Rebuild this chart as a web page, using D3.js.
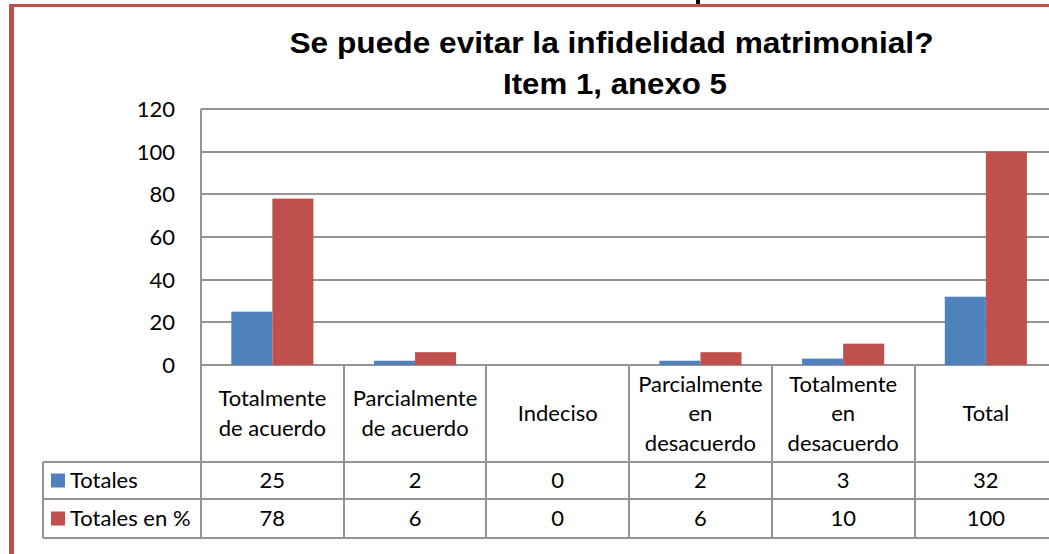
<!DOCTYPE html>
<html>
<head>
<meta charset="utf-8">
<script src="https://cdn.jsdelivr.net/npm/d3@7"></script>
<style>
  html, body { margin: 0; padding: 0; background: #fff; }
  svg { display: block; }
</style>
</head>
<body>
<div id="chart"></div>
<script>
// categorias y series
var categories = [
    ["Totalmente", "de acuerdo"],
    ["Parcialmente", "de acuerdo"],
    ["Indeciso"],
    ["Parcialmente", "en", "desacuerdo"],
    ["Totalmente", "en", "desacuerdo"],
    ["Total"]
];
var seriesNames = ["Totales", "Totales en %"];
var totales = [25, 2, 0, 2, 3, 32];
var totalesPct = [78, 6, 0, 6, 10, 100];
var yTicks = [0, 20, 40, 60, 80, 100, 120];
var titleLines = ["Se puede evitar la infidelidad matrimonial?", "Item 1, anexo 5"];

var colors = ["#4F81BD", "#C0504D"];
var gridColor = "#949494";
var font = "Lato, 'Open Sans', sans-serif";

var width = 1049, height = 554;
var plotLeft = 201, catW = 142.7;
var plotRight = plotLeft + catW * categories.length;
var plotTop = 109, plotBottom = 365;
var headerBottom = 462, row1Bottom = 499, row2Bottom = 538;
var legendLeft = 43;

var svg = d3.select("#chart").append("svg")
    .attr("width", width)
    .attr("height", height);

// marco rojo
svg.append("rect").attr("x", 9).attr("y", 4).attr("width", width).attr("height", 3).attr("fill", "#C0504D");
svg.append("rect").attr("x", 9).attr("y", 4).attr("width", 5).attr("height", height).attr("fill", "#C0504D");
// resto de una letra del texto de arriba (cortado por el borde)
svg.append("rect").attr("x", 696).attr("y", 0).attr("width", 4).attr("height", 4).attr("fill", "#000");

// titulo
var titleWidths = [644, 224];
svg.append("g").selectAll("text").data(titleLines).enter().append("text")
    .attr("x", function(d, i) { return i ? 615 : 611.5; })
    .attr("y", function(d, i) { return i ? 94 : 53; })
    .attr("text-anchor", "middle")
    .attr("font-family", "'Liberation Sans', Arial, sans-serif")
    .attr("font-weight", "bold")
    .attr("font-size", 30)
    .attr("textLength", function(d, i) { return titleWidths[i]; })
    .attr("lengthAdjust", "spacingAndGlyphs")
    .text(function(d) { return d; });

var y = d3.scaleLinear().domain([0, 120]).range([plotBottom, plotTop]);
var x0 = d3.scaleBand().domain(d3.range(categories.length)).range([plotLeft, plotRight]);
var x1 = d3.scaleBand().domain(d3.range(seriesNames.length)).range([30.3, catW - 30.3]);

// lineas de cuadricula
svg.append("g").selectAll("line").data(yTicks).enter().append("line")
    .attr("x1", plotLeft).attr("x2", width)
    .attr("y1", function(d) { return Math.round(y(d)); })
    .attr("y2", function(d) { return Math.round(y(d)); })
    .attr("stroke", gridColor).attr("stroke-width", 2);

// etiquetas eje y
svg.append("g").selectAll("text").data(yTicks).enter().append("text")
    .attr("x", 175)
    .attr("y", function(d) { return y(d); })
    .attr("dy", "0.36em")
    .attr("text-anchor", "end")
    .attr("font-family", font).attr("font-size", 22)
    .text(function(d) { return d; });

// barras
var seriesData = [totales, totalesPct];
seriesData.forEach(function(vals, s) {
    svg.append("g").selectAll("rect").data(vals).enter().append("rect")
        .attr("x", function(d, i) { return x0(i) + x1(s); })
        .attr("width", x1.bandwidth())
        .attr("y", function(d) { return y(d); })
        .attr("height", function(d) { return plotBottom - y(d); })
        .attr("fill", colors[s]);
});

// tabla de datos
var tbl = svg.append("g").attr("stroke", gridColor).attr("stroke-width", 2);
[headerBottom, row1Bottom, row2Bottom].forEach(function(yy) {
    tbl.append("line").attr("x1", legendLeft).attr("x2", width).attr("y1", yy).attr("y2", yy);
});
tbl.append("line").attr("x1", legendLeft).attr("x2", legendLeft).attr("y1", headerBottom).attr("y2", row2Bottom);
tbl.append("line").attr("x1", plotLeft).attr("x2", plotLeft).attr("y1", plotTop).attr("y2", row2Bottom);
d3.range(1, categories.length + 1).forEach(function(i) {
    var xx = Math.round(plotLeft + i * catW);
    tbl.append("line").attr("x1", xx).attr("x2", xx).attr("y1", plotBottom).attr("y2", row2Bottom);
});

// encabezados de categoria
var headerMid = (plotBottom + headerBottom) / 2;
var lineH = 29.5;
categories.forEach(function(lines, i) {
    var cx = x0(i) + catW / 2;
    svg.append("g").selectAll("text").data(lines).enter().append("text")
        .attr("x", cx)
        .attr("y", function(d, k) { return headerMid + (k - (lines.length - 1) / 2) * lineH; })
        .attr("dy", "0.35em")
        .attr("text-anchor", "middle")
        .attr("font-family", font).attr("font-size", 22)
        .text(function(d) { return d; });
});

// filas de valores con leyenda
var rowMids = [(headerBottom + row1Bottom) / 2, (row1Bottom + row2Bottom) / 2];
seriesData.forEach(function(vals, s) {
    var ym = rowMids[s];
    svg.append("rect").attr("x", 51).attr("y", ym - 7).attr("width", 14).attr("height", 14).attr("fill", colors[s]);
    svg.append("text").attr("x", 70).attr("y", ym).attr("dy", "0.35em")
        .attr("font-family", font).attr("font-size", 22)
        .text(seriesNames[s]);
    svg.append("g").selectAll("text").data(vals).enter().append("text")
        .attr("x", function(d, i) { return x0(i) + catW / 2; })
        .attr("y", ym).attr("dy", "0.35em")
        .attr("text-anchor", "middle")
        .attr("font-family", font).attr("font-size", 22)
        .text(function(d) { return d; });
});
</script>
</body>
</html>
